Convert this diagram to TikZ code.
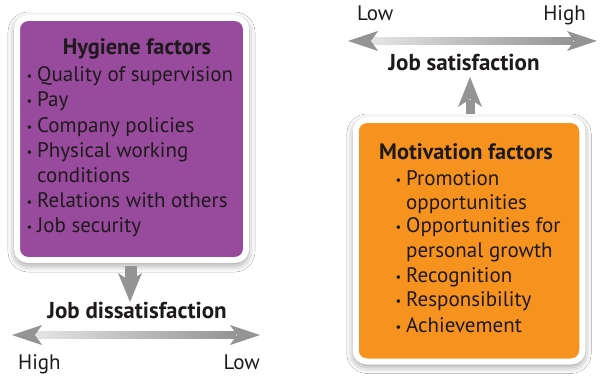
\documentclass[tikz,border=0pt]{standalone}
\usepackage{fontspec}
\setmainfont{PT Sans}
\usetikzlibrary{shadows.blur,calc}
\definecolor{hygpurple}{RGB}{152,74,156}
\definecolor{motorange}{RGB}{246,146,30}
\definecolor{txt}{RGB}{30,26,28}
\definecolor{arrgray}{RGB}{148,148,148}
\definecolor{arrlight}{RGB}{228,228,228}
\newcommand{\bul}{\llap{\raisebox{1pt}{\scalebox{0.6}{\textbullet}}\hspace{5pt}}}
\begin{document}
\begin{tikzpicture}[x=1pt,y=-1pt,
  factorbox/.style={draw=white, line width=6pt, rounded corners=11pt, inner sep=0pt,
    blur shadow={shadow xshift=0pt, shadow yshift=-3pt, shadow blur radius=9pt, shadow opacity=55}},
  boxtitle/.style={font=\fontsize{22.3}{26}\selectfont\bfseries, text=txt, inner sep=0pt, anchor=base},
  item/.style={font=\fontsize{21}{24}\selectfont, text=txt, inner sep=0pt, anchor=base west},
  scalelabel/.style={font=\fontsize{21}{24}\selectfont, text=txt, inner sep=0pt},
  axistitle/.style={font=\fontsize{23}{26}\selectfont\bfseries, text=txt, inner sep=0pt, anchor=base},
  headfill/.style={fill=arrgray}
]
\useasboundingbox (0,0) rectangle (605,382);
\fill[white] (0,0) rectangle (605,382);

% boxes
\node[factorbox, fill=hygpurple, minimum width=229pt, minimum height=242pt] (hyg) at (131.5,139) {};
\node[factorbox, fill=motorange, minimum width=226.5pt, minimum height=241.5pt] (mot) at (469,240.75) {};

% hygiene text
\node[boxtitle] (hygt) at (137,55) {Hygiene factors};
\node[item] (h1) at (37,82) {\bul Quality of supervision};
\node[item] (h2) at (37,107) {\bul Pay};
\node[item] (h3) at (37,133) {\bul Company policies};
\node[item] (h4) at (37,158) {\bul Physical working};
\node[item] (h5) at (37,183) {conditions};
\node[item] (h6) at (37,208) {\bul Relations with others};
\node[item] (h7) at (37,233) {\bul Job security};

% motivation text
\node[boxtitle] (mott) at (466,160) {Motivation factors};
\node[item] (m1) at (406,186) {\bul Promotion};
\node[item] (m2) at (406,210) {opportunities};
\node[item] (m3) at (406,233) {\bul Opportunities for};
\node[item] (m4) at (406,257) {personal growth};
\node[item] (m5) at (406,282) {\bul Recognition};
\node[item] (m6) at (406,306) {\bul Responsibility};
\node[item] (m7) at (406,332) {\bul Achievement};

% axis titles
\node[axistitle] (dis) at (137,318) {Job dissatisfaction};
\node[axistitle] (sat) at (464,71) {Job satisfaction};

% scale labels
\node[scalelabel, anchor=base west] (dhigh) at (18,369) {High};
\node[scalelabel, anchor=base east] (dlow) at (260,369) {Low};
\node[scalelabel, anchor=base west] (slow) at (357,21) {Low};
\node[scalelabel, anchor=base east] (shigh) at (586,21) {High};

% down arrow hygiene -> dissatisfaction
\coordinate (dtip) at (130,302);
\fill[arrgray] ($(hyg.south)+(-6.5,3)$) rectangle ($(dtip)+(6.5,-21)$);
\fill[arrgray] (dtip) -- ++(-12,-29) -- ++(12,8) -- ++(12,-8) -- cycle;

% up arrow motivation -> satisfaction
\coordinate (utip) at (470,77);
\fill[arrgray] ($(mot.north)+(-3.5,-3)$) rectangle ($(utip)+(4.5,23)$);
\fill[arrgray] (utip) -- ++(-12,30) -- ++(12,-8) -- ++(12,8) -- cycle;

% bottom double arrow
\coordinate (dl) at (12,335);
\coordinate (dr) at (260,335);
\shade[left color=arrlight, right color=arrgray] ($(dl)+(24,-3.5)$) rectangle ($(dr)+(-24,3.5)$);
\fill[headfill] (dl) -- ++(30,-10) -- ++(-7,10) -- ++(7,10) -- cycle;
\fill[headfill] (dr) -- ++(-30,-10) -- ++(7,10) -- ++(-7,10) -- cycle;

% top double arrow
\coordinate (tl) at (348,41);
\coordinate (tr) at (597,41);
\shade[left color=arrlight, right color=arrgray] ($(tl)+(24,-3.5)$) rectangle ($(tr)+(-24,3.5)$);
\fill[headfill] (tl) -- ++(30,-10) -- ++(-7,10) -- ++(7,10) -- cycle;
\fill[headfill] (tr) -- ++(-30,-10) -- ++(7,10) -- ++(-7,10) -- cycle;
\end{tikzpicture}
\end{document}
